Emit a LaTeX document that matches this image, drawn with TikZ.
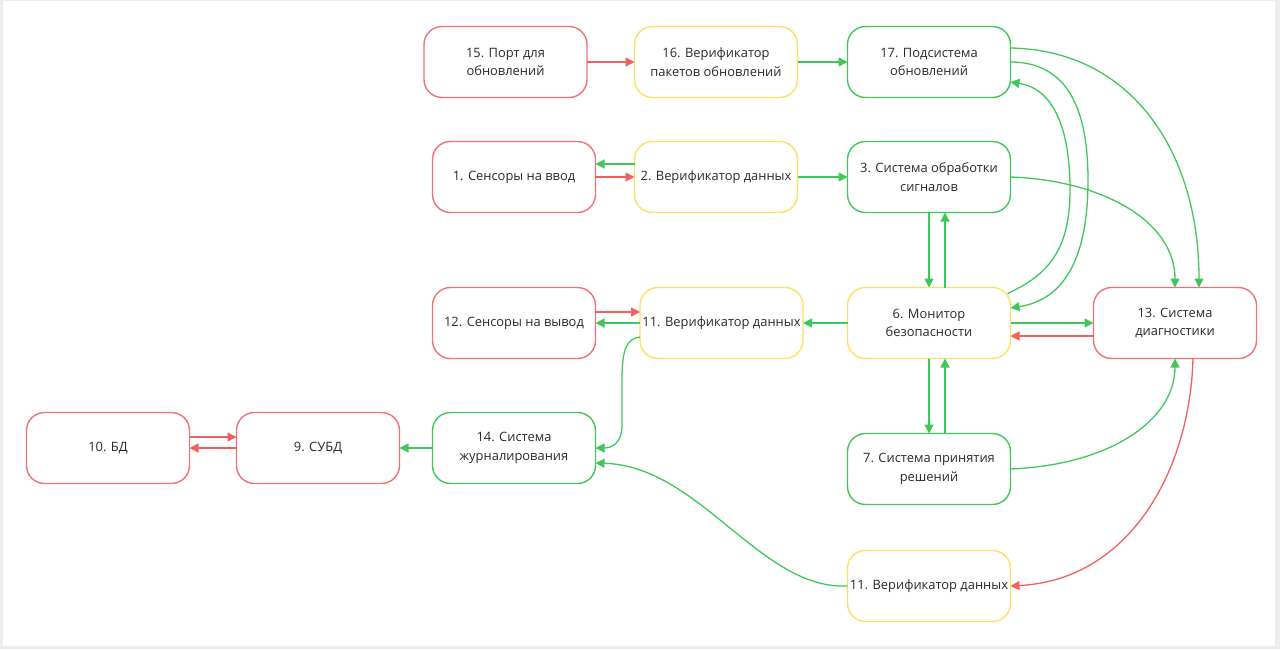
\documentclass[tikz,border=0pt]{standalone}
\usepackage{fontspec}
\setmainfont{Open Sans}
\usetikzlibrary{arrows.meta}
\definecolor{bred}{HTML}{F07272}
\definecolor{ared}{HTML}{F25F5F}
\definecolor{byel}{HTML}{FFDF63}
\definecolor{bgrn}{HTML}{40C75C}
\definecolor{txt}{HTML}{2A2A2A}
\definecolor{frame}{HTML}{EDEDED}
\tikzset{
  box/.style={rectangle, rounded corners=18pt, line width=1.4pt, minimum width=163pt,
    minimum height=71pt, inner sep=0pt, outer sep=0pt, align=center, text=txt,
    font=\fontsize{12.9}{18.5}\selectfont, fill=white},
  rbox/.style={box, draw=bred},
  ybox/.style={box, draw=byel},
  gbox/.style={box, draw=bgrn},
  garr/.style={draw=bgrn, line width=1.3pt, -{Triangle[length=9pt,width=9pt]}, fill=none},
  rarr/.style={draw=ared, line width=1.3pt, -{Triangle[length=9pt,width=9pt]}, fill=none},
}
\begin{document}
\begin{tikzpicture}[x=1pt,y=-1pt]
\fill[frame] (0,0) rectangle (1280,649);
\fill[white] (3,1) rectangle (1275,646);
\useasboundingbox (0,0) rectangle (1280,649);

\node[rbox] (n15) at (505.5,62) {15. Порт для\\обновлений};
\node[ybox] (n16) at (716,62) {16. Верификатор\\пакетов обновлений};
\node[gbox] (n17) at (929,62) {17. Подсистема\\обновлений};
\node[rbox] (n1) at (514,177) {1. Сенсоры на ввод};
\node[ybox] (n2) at (716,177) {2. Верификатор данных};
\node[gbox] (n3) at (929,177) {3. Система обработки\\сигналов};
\node[rbox] (n12) at (514,323) {12. Сенсоры на вывод};
\node[ybox] (n11a) at (721.5,323) {11. Верификатор данных};
\node[ybox] (n6) at (929,323) {6. Монитор\\безопасности};
\node[rbox] (n13) at (1175,323) {13. Система\\диагностики};
\node[rbox] (n10) at (108,448) {10. БД};
\node[rbox] (n9) at (318,448) {9. СУБД};
\node[gbox] (n14) at (514,448) {14. Система\\журналирования};
\node[gbox] (n7) at (929,469) {7. Система принятия\\решений};
\node[ybox] (n11b) at (929,586) {11. Верификатор данных};

% straight connectors
\draw[rarr] (n15) -- (n16);
\draw[garr] (n16) -- (n17);
\draw[garr] ([yshift=13pt]n2.west) -- ([yshift=13pt]n1.east);
\draw[rarr] (n1) -- (n2);
\draw[garr] (n2) -- (n3);
\draw[garr] (n3.south) -- (n6.north);
\draw[garr] ([xshift=16pt]n6.north) -- ([xshift=16pt]n3.south);
\draw[garr] (n6.south) -- (n7.north);
\draw[garr] ([xshift=16pt]n7.north) -- ([xshift=16pt]n6.south);
\draw[garr] (n6) -- (n11a);
\draw[garr] (n11a) -- (n12);
\draw[rarr] ([yshift=11pt]n12.east) -- ([yshift=11pt]n11a.west);
\draw[garr] (n6) -- (n13);
\draw[rarr] ([yshift=-13pt]n13.west) -- ([yshift=-13pt]n6.east);
\draw[garr] (n14) -- (n9);
\draw[rarr] ([yshift=11pt]n10.east) -- ([yshift=11pt]n9.west);
\draw[rarr] (n9) -- (n10);

% curved connectors
\draw[garr] ([yshift=14pt]n17.east) .. controls (1130,50) and (1199,150) .. ([xshift=24pt]n13.north);
\draw[garr] (n3.east) .. controls (1100,180) and (1175,220) .. (n13.north);
\draw[garr] (n17.east) .. controls (1068,62) and (1088,110) .. (1088,180)
  .. controls (1088,262) and (1062,300) .. ([yshift=15pt]n6.east);
\draw[garr] ([xshift=-3pt,yshift=-6pt]n6.north east) .. controls (1048,275) and (1070,250) .. (1070,190)
  .. controls (1070,122) and (1050,88) .. ([yshift=-20pt]n17.east);
\draw[garr] (n7.east) .. controls (1110,465) and (1175,420) .. (n13.south);
\draw[rarr] ([xshift=18pt]n13.south) .. controls (1190,470) and (1130,580) .. (n11b.east);
\draw[garr] ([yshift=-14pt]n11a.west) .. controls (626,339) and (622,350) .. (622,380)
  -- (622,425) .. controls (622,443) and (612,448) .. (n14.east);
\draw[garr] (n11b.west) .. controls (760,590) and (700,466) .. ([yshift=-15pt]n14.east);
\end{tikzpicture}
\end{document}
